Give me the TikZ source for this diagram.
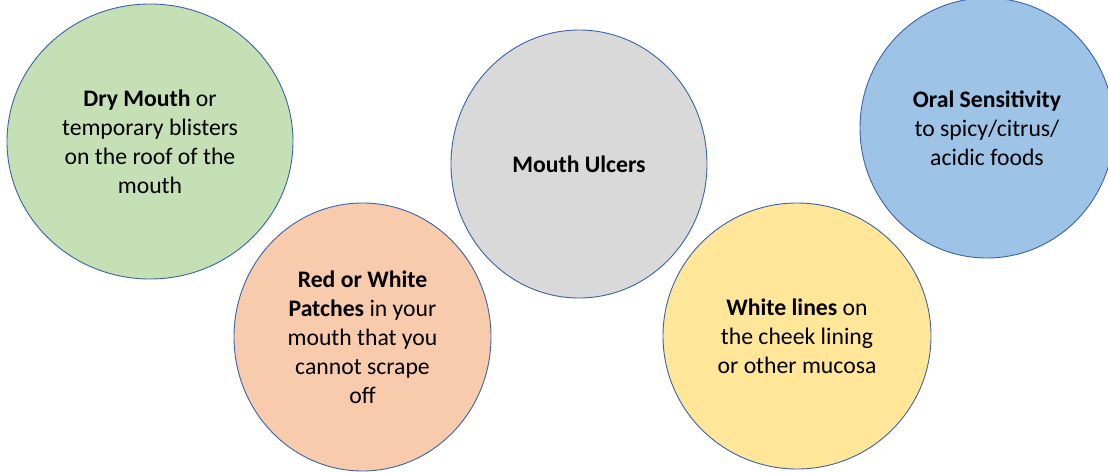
\documentclass[tikz,border=0pt]{standalone}
\usepackage{fontspec}
\setmainfont{Carlito}
\usetikzlibrary{shapes.geometric}
\definecolor{RimClr}{HTML}{3A62A7}
\definecolor{DryClr}{HTML}{C5E0B4}
\definecolor{PatchClr}{HTML}{F8CBAD}
\definecolor{UlcerClr}{HTML}{D9D9D9}
\definecolor{LineClr}{HTML}{FFE699}
\definecolor{SensClr}{HTML}{9DC3E6}
\tikzset{bubble/.style={ellipse,draw=RimClr,line width=0.9pt,inner sep=0pt,
  align=center,font=\fontsize{23.7}{29}\selectfont}}

\begin{document}
\begin{tikzpicture}[x=1pt,y=-1pt]
\clip (0,0) rectangle (1108,472);

\node[bubble,fill=DryClr,minimum width=286,minimum height=275] (dry) at (150,141.5)
  {\textbf{Dry Mouth} or\\temporary blisters\\on the roof of the\\mouth};
\node[bubble,fill=PatchClr,minimum width=257,minimum height=268] (patch) at (362.5,337)
  {\textbf{Red or White}\\\textbf{Patches} in your\\mouth that you\\cannot scrape\\off};
\node[bubble,fill=UlcerClr,minimum width=256,minimum height=268] (ulcer) at (579,164)
  {\textbf{Mouth Ulcers}};
\node[bubble,fill=LineClr,minimum width=268,minimum height=266] (lines) at (797,336)
  {\textbf{White lines} on\\the cheek lining\\or other mucosa};
\node[bubble,fill=SensClr,minimum width=254,minimum height=260] (sens) at (987,128)
  {\textbf{Oral Sensitivity}\\to spicy/citrus/\\acidic foods};

\end{tikzpicture}
\end{document}
